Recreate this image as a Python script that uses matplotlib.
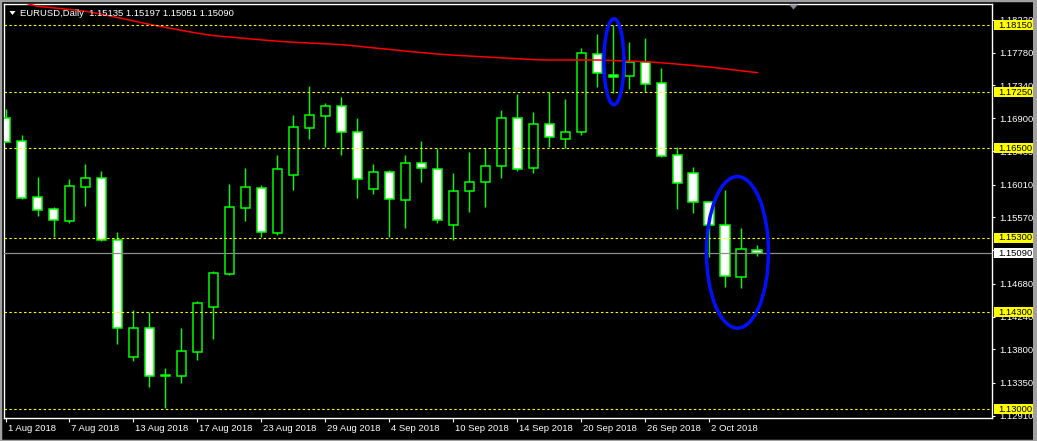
import numpy as np
import matplotlib
matplotlib.use("Agg")
import matplotlib.pyplot as plt
import matplotlib.transforms as mtransforms
from matplotlib.patches import Ellipse, Rectangle, Polygon

plt.rcParams['font.family'] = ['Liberation Sans', 'DejaVu Sans']

# daily EURUSD bars, 1 Aug 2018 .. 5 Oct 2018
opens = [1.16899, 1.16590, 1.15839, 1.15678, 1.15525, 1.15981, 1.16094, 1.15262,
         1.13701, 1.14090, 1.13440, 1.13447, 1.13768, 1.14372, 1.14814, 1.15700,
         1.15960, 1.15364, 1.16142, 1.16773, 1.16934, 1.17060, 1.16711, 1.15946,
         1.16174, 1.15799, 1.16295, 1.16215, 1.15464, 1.15920, 1.16040, 1.16255,
         1.16899, 1.16228, 1.16818, 1.16617, 1.16719, 1.17761, 1.17475, 1.17470,
         1.17650, 1.17368, 1.16402, 1.16161, 1.15772, 1.15464, 1.14766, 1.15135]
highs = [1.17027, 1.16675, 1.16111, 1.15705, 1.16085, 1.16286, 1.16192, 1.15370,
         1.14323, 1.14297, 1.13546, 1.14090, 1.14448, 1.14847, 1.16017, 1.16232,
         1.16000, 1.16406, 1.16943, 1.17332, 1.17108, 1.17184, 1.16899, 1.16286,
         1.16205, 1.16402, 1.16594, 1.16496, 1.16165, 1.16443, 1.16496, 1.17010,
         1.17225, 1.16983, 1.17251, 1.17157, 1.17846, 1.18029, 1.18150, 1.17922,
         1.17976, 1.17569, 1.16518, 1.16241, 1.15794, 1.15937, 1.15423, 1.15197]
lows = [1.16580, 1.15820, 1.15592, 1.15307, 1.15498, 1.15722, 1.15255, 1.13876,
        1.13648, 1.13299, 1.13010, 1.13353, 1.13657, 1.13939, 1.14800, 1.15525,
        1.15303, 1.15334, 1.15937, 1.16625, 1.16514, 1.16406, 1.15834, 1.15883,
        1.15303, 1.15431, 1.16048, 1.15498, 1.15262, 1.15646, 1.15705, 1.16094,
        1.16196, 1.16169, 1.16514, 1.16496, 1.16675, 1.17322, 1.17234, 1.17292,
        1.17251, 1.16384, 1.15686, 1.15633, 1.15042, 1.14640, 1.14627, 1.15051]
closes = [1.16585, 1.15834, 1.15665, 1.15531, 1.15987, 1.16094, 1.15262, 1.14090,
          1.14090, 1.13438, 1.13450, 1.13774, 1.14417, 1.14820, 1.15705, 1.15973,
          1.15378, 1.16215, 1.16778, 1.16943, 1.17060, 1.16711, 1.16080, 1.16174,
          1.15812, 1.16295, 1.16228, 1.15531, 1.15920, 1.16040, 1.16255, 1.16899,
          1.16215, 1.16818, 1.16644, 1.16711, 1.17770, 1.17510, 1.17449, 1.17650,
          1.17363, 1.16397, 1.16027, 1.15772, 1.15468, 1.14779, 1.15142, 1.15090]
ma = [1.18620, 1.18458, 1.18401, 1.18381, 1.18358, 1.18335, 1.18296, 1.18251,
      1.18205, 1.18159, 1.18119, 1.18079, 1.18040, 1.18008, 1.17989, 1.17970,
      1.17951, 1.17933, 1.17919, 1.17909, 1.17898, 1.17887, 1.17866, 1.17844,
      1.17823, 1.17801, 1.17781, 1.17761, 1.17746, 1.17734, 1.17722, 1.17710,
      1.17698, 1.17686, 1.17681, 1.17681, 1.17681, 1.17681, 1.17674, 1.17666,
      1.17658, 1.17644, 1.17626, 1.17606, 1.17587, 1.17562, 1.17536, 1.17511]

date_ticks = [0, 4, 8, 12, 16, 20, 24, 28, 32, 36, 40, 44]
date_labels = ['1 Aug 2018', '7 Aug 2018', '13 Aug 2018', '17 Aug 2018', '23 Aug 2018',
               '29 Aug 2018', '4 Sep 2018', '10 Sep 2018', '14 Sep 2018',
               '20 Sep 2018', '26 Sep 2018', '2 Oct 2018']
price_ticks = [1.18220, 1.17780, 1.17340, 1.16900, 1.16460, 1.16010, 1.15570,
               1.15130, 1.14680, 1.14240, 1.13800, 1.13350, 1.12910]
levels = [1.18150, 1.17250, 1.16500, 1.15300, 1.14300, 1.13000]
bid = 1.15090
title = 'EURUSD,Daily  1.15135 1.15197 1.15051 1.15090'

W, H = 1037, 441
fig = plt.figure(figsize=(W / 100, H / 100), dpi=100, facecolor='black')
ax = fig.add_axes([4 / W, 1 - 417.5 / H, 988 / W, 413.2 / H])
ax.set_facecolor('black')

x = np.arange(len(opens))
o = np.array(opens); c = np.array(closes)
green = '#00ff00'
ax.vlines(x, lows, highs, color=green, lw=1.0, zorder=2)
bull = c >= o
ax.bar(x, np.abs(c - o) + 0.00002, bottom=np.minimum(o, c) - 0.00001, width=0.62,
       color=np.where(bull, 'black', 'white'), edgecolor=green, lw=1.1, zorder=3)

ax.plot(x, ma, color='red', lw=1.1, zorder=4)

for lv in levels:
    ax.axhline(lv, color='#ffff00', lw=0.8, ls=(0, (2.2, 2.2)), zorder=5)
ax.axhline(bid, color='#8c8c8c', lw=0.9, zorder=5)

# blue marks
ax.add_patch(Ellipse((38.03, 1.17658), 1.25, 0.01153, fill=False,
                     edgecolor='#0010ff', lw=2.5, zorder=6))
ax.add_patch(Ellipse((45.75, 1.15101), 3.875, 0.02033, fill=False,
                     edgecolor='#0010ff', lw=2.5, zorder=6))

ax.set_xlim(-0.094, 61.66)
ax.set_ylim(1.12886, 1.18428)
for s in ax.spines.values():
    s.set_color('white')
    s.set_linewidth(1.0)

ax.yaxis.tick_right()
ax.set_yticks(price_ticks)
ax.set_yticklabels(['%.5f' % v for v in price_ticks])
ax.tick_params(axis='y', colors='white', length=2.5, width=0.8, pad=3, labelsize=6.8)
ax.set_xticks(date_ticks)
ax.set_xticklabels(date_labels, ha='left')
ax.tick_params(axis='x', colors='white', length=3, width=0.8, pad=2, labelsize=6.8)
offset = mtransforms.ScaledTranslation(2 / 100, 0, fig.dpi_scale_trans)
for lab in ax.get_xticklabels():
    lab.set_transform(lab.get_transform() + offset)

# price boxes on the right scale
ytr = ax.get_yaxis_transform()
box_h = 10 / 7456
for lv, fc in [(v, '#ffff00') for v in levels] + [(bid, 'white')]:
    ax.add_patch(Rectangle((1.002, lv - box_h / 2), 0.0405, box_h, transform=ytr,
                           facecolor=fc, edgecolor='none', clip_on=False, zorder=7))
    ax.text(1.0068, lv, '%.5f' % lv, transform=ytr, color='black', fontsize=6.8,
            va='center', ha='left', clip_on=False, zorder=8)

# header text and markers
fig.text(20 / W, 1 - 13 / H, title, color='white', fontsize=6.8, va='center', ha='left')
fig.patches.append(Polygon([[9.5 / W, 1 - 11 / H], [15.5 / W, 1 - 11 / H], [12.5 / W, 1 - 15 / H]],
                           closed=True, facecolor='white', edgecolor='none',
                           transform=fig.transFigure, figure=fig))
fig.patches.append(Polygon([[789 / W, 1 - 4.5 / H], [798 / W, 1 - 4.5 / H], [793.5 / W, 1 - 9.5 / H]],
                           closed=True, facecolor='#7f8c99', edgecolor='none',
                           transform=fig.transFigure, figure=fig))
# window frame
fig.patches.append(Rectangle((0, 0), 1, 1, transform=fig.transFigure, fill=False,
                             edgecolor='#a0a0a0', lw=2.5, figure=fig))
fig.patches.append(Rectangle((1033 / W, 0), 4 / W, 1, transform=fig.transFigure,
                             facecolor='#a0a0a0', edgecolor='none', figure=fig))

fig.savefig('out.png', dpi=100, facecolor='black')
